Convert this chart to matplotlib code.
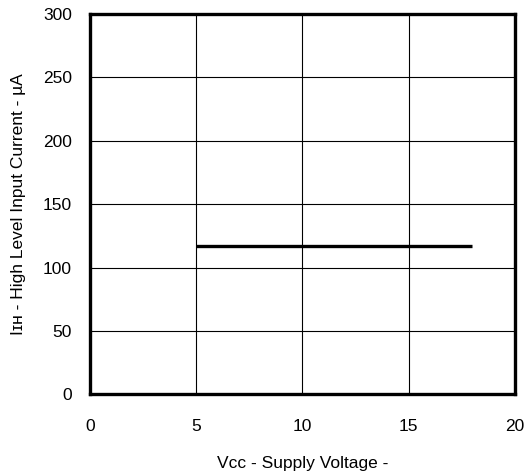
import matplotlib
matplotlib.use("Agg")
import matplotlib.pyplot as plt

# Datos de la curva
vcc = [5, 18]
i_ih = [117, 117]

x_ticks = [0, 5, 10, 15, 20]
y_ticks = [0, 50, 100, 150, 200, 250, 300]

plt.rcParams['font.family'] = ['Liberation Sans', 'DejaVu Sans']
plt.rcParams['font.size'] = 12.5

fig = plt.figure(figsize=(5.27, 4.71), dpi=100)
ax = fig.add_axes([0.171, 0.163, 0.806, 0.807])

ax.plot(vcc, i_ih, color='black', lw=2.4, solid_capstyle='butt')

ax.set_xlim(0, 20)
ax.set_ylim(0, 300)
ax.set_xticks(x_ticks)
ax.set_yticks(y_ticks)
ax.tick_params(length=0)
ax.tick_params(axis='x', pad=18)
ax.tick_params(axis='y', pad=13)
ax.grid(True, color='black', lw=0.8)
for s in ax.spines.values():
    s.set_linewidth(2.4)

ax.set_xlabel('V\u1d04\u1d04 - Supply Voltage -', labelpad=16)
ax.set_ylabel('I\u026a\u029c - High Level Input Current - \u00b5A', labelpad=12)

fig.savefig('out.png', dpi=100)
